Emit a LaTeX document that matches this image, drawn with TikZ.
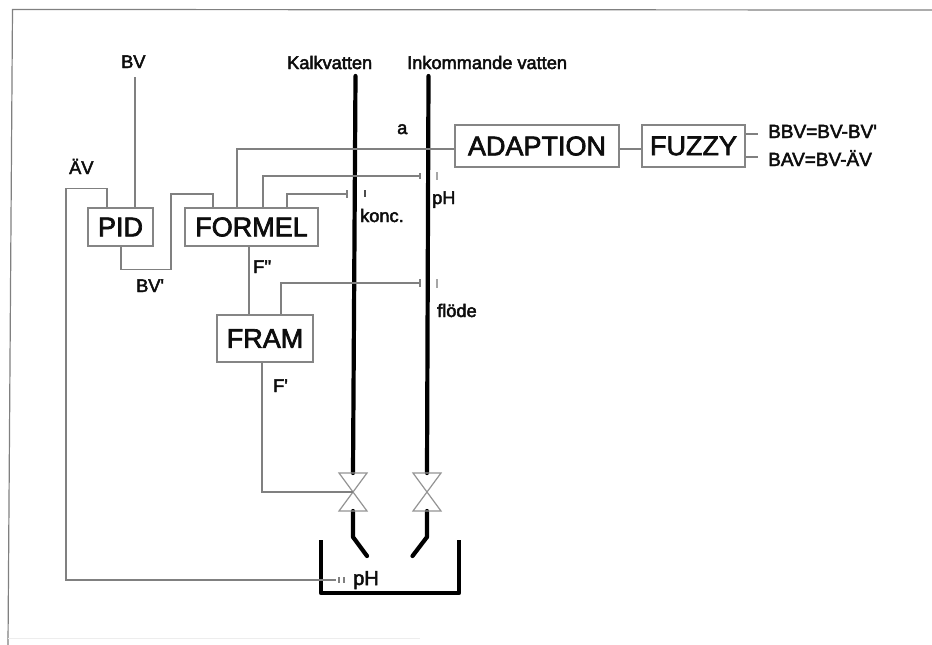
\documentclass[tikz,border=0pt]{standalone}
\usepackage{fontspec}
\setmainfont{Liberation Sans}
\usetikzlibrary{calc}
\definecolor{wire}{gray}{0.5}
\definecolor{boxline}{gray}{0.52}
\definecolor{valveline}{gray}{0.58}
\definecolor{ink}{gray}{0.05}
\newfontfamily\blockfont[FakeBold=2.5]{Liberation Sans}
\newfontfamily\labfont[FakeBold=2.5]{Liberation Sans}
\tikzset{
  x=1pt,y=-1pt,
  blockbox/.style={draw=boxline,line width=1.2pt,inner sep=0pt,text=ink,font=\blockfont\fontsize{27}{27}\selectfont,align=center},
  lab/.style={anchor=base west,inner sep=0pt,text=ink,font=\labfont\fontsize{18.2}{18.2}\selectfont},
  labwide/.style={lab,font=\labfont\fontsize{19}{19}\selectfont},
  sig/.style={draw=wire,line width=1.15pt},
  ticks/.style={draw=wire,line width=1.1pt},
  pipe/.style={draw=black,line width=4.2pt,line cap=round,line join=round},
  valve/.style={draw=valveline,line width=1.2pt,line join=miter},
  sheet/.style={draw=black!50,line width=1.2pt}
}
\begin{document}
\begin{tikzpicture}
\useasboundingbox (0,0) rectangle (932,645);
\fill[white] (0,0) rectangle (932,645);
% sheet edge
\draw[sheet] (8,645) -- (12.5,9.5) -- (932,10);
\draw[black!7,line width=.8pt] (8,638) -- (420,638);

% pipes
\coordinate (kt) at (355.5,76);
\coordinate (kv) at (353,492);
\coordinate (it) at (428.5,76);
\coordinate (iv) at (427,492);
\draw[pipe] (kt) -- (353,473);
\draw[pipe] (it) -- (427,473);
\draw[pipe] (353,511) -- (353,537) -- (367,556);
\draw[pipe] (427,511) -- (427,537) -- (412.5,556);
\draw[pipe,line cap=butt] (321,540) -- (321,593) -- (459,593) -- (459,540);

% valves
\foreach \c in {kv,iv}{
  \draw[valve] ($(\c)+(-14,-19)$) -- ($(\c)+(14,-19)$) -- ($(\c)+(-14,19)$) -- ($(\c)+(14,19)$) -- cycle;
}

% blocks
\node[blockbox,minimum width=65pt,minimum height=38pt] (pid) at (120.5,227) {PID};
\node[blockbox,minimum width=133pt,minimum height=38pt] (formel) at (251.5,227) {FORMEL};
\node[blockbox,minimum width=96pt,minimum height=47pt] (fram) at (265,338.5) {FRAM};
\node[blockbox,minimum width=164pt,minimum height=42pt] (adaption) at (537,146) {ADAPTION};
\node[blockbox,minimum width=103pt,minimum height=42pt] (fuzzy) at (693.5,146) {FUZZY};

% free ends
\coordinate (bvin) at (135,77);
\coordinate (phs) at (420,176);
\coordinate (konc) at (347,194);
\coordinate (flode) at (420,283);
\coordinate (tankph) at (336,580);
\coordinate (oa) at (758,134);
\coordinate (ob) at (758,157);

% connectors
\draw[sig] (bvin) -- (bvin |- pid.north);
\draw[sig] ([xshift=-13.5pt]pid.north) -- ++(0,-19) -| (66,578) |- (tankph);
\draw[sig] ([xshift=0.5pt]pid.south) -- ++(0,23) -| (171,194) -| ([xshift=-38.5pt]formel.north);
\draw[sig] ([xshift=-14.5pt]formel.north) |- ([yshift=-3pt]adaption.west);
\draw[sig] ([xshift=11.5pt]formel.north) |- (phs);
\draw[sig] ([xshift=35.5pt]formel.north) |- (konc);
\draw[sig] ([xshift=-2.5pt]formel.south) -- ([xshift=-16pt]fram.north);
\draw[sig] ([xshift=16pt]fram.north) |- (flode);
\draw[sig] ([xshift=-3pt]fram.south) |- (kv);
\draw[sig] ([yshift=-3pt]adaption.east) -- ([yshift=-3pt]fuzzy.west);
\draw[sig] (fuzzy.east |- oa) -- (oa);
\draw[sig] (fuzzy.east |- ob) -- (ob);

% sensor ticks
\draw[ticks] ($(phs)+(0,-3)$) -- ($(phs)+(0,3)$);
\draw[ticks,gray!70] (437,172) -- (437,180);
\draw[ticks] ($(konc)+(0,-4)$) -- ($(konc)+(0,4)$);
\draw[ticks,black!70] (365,190) -- (365,197);
\draw[ticks] ($(flode)+(0,-4)$) -- ($(flode)+(0,4)$);
\draw[ticks,gray!70] (437,279) -- (437,288);
\draw[ticks] (339,577) -- (339,583);
\draw[ticks] (344,577) -- (344,583);

% labels
\node[lab] (lbv) at (121,68) {BV};
\node[lab] (lkalk) at (287,69) {Kalkvatten};
\node[lab] (link) at (407,69) {Inkommande vatten};
\node[lab] (la) at (397,134) {a};
\node[lab] (lav) at (69,174) {ÄV};
\node[lab] (lbvp) at (136,292) {BV'};
\node[lab] (lfpp) at (253,273) {F''};
\node[lab] (lkonc) at (360,222) {konc.};
\node[lab] (lph) at (432,204) {pH};
\node[lab] (lflode) at (437,317) {flöde};
\node[lab] (lfp) at (273,392) {F'};
\node[lab,font=\labfont\fontsize{20}{20}\selectfont] (lph2) at (353,585) {pH};
\node[labwide] (lbbv) at (768,138) {BBV=BV-BV'};
\node[labwide] (lbav) at (768,166) {BAV=BV-ÄV};
\end{tikzpicture}
\end{document}
